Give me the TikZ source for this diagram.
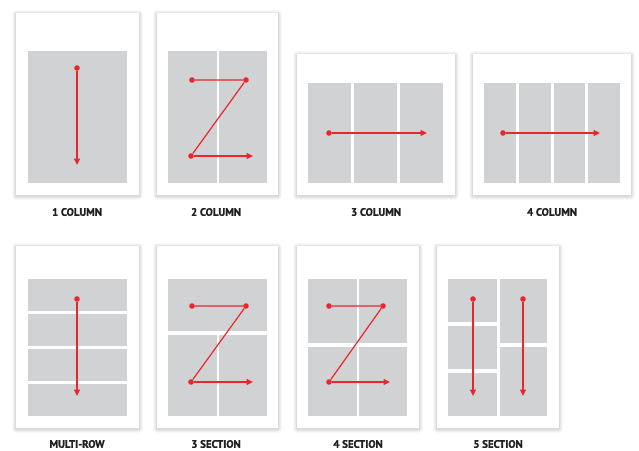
\documentclass[tikz,border=0pt]{standalone}
\usepackage{fontspec}
\setmainfont{PT Sans}
\newfontfamily\labfont{PT Sans}[BoldFeatures={FakeBold=1.2}]
\usetikzlibrary{arrows.meta}
\definecolor{panel}{HTML}{D1D2D4}
\definecolor{flow}{HTML}{E8262B}
\definecolor{ink}{HTML}{231F20}
\newcommand\mycard[4]{%
 \foreach \e/\o in {4/0.025,3/0.03,2/0.04,1/0.05}{\fill[black,opacity=\o,rounded corners=\e pt] (#1-\e,#2-\e+1) rectangle (#3+\e,#4+\e+1);}
 \fill[white] (#1,#2) rectangle (#3,#4);}
\newcommand\pan[4]{\fill[panel] (#1,#2) rectangle (#3,#4);}
\tikzset{
 dot/.style={circle,fill=flow,inner sep=0pt,minimum size=5.6pt},
 zline/.style={draw=flow,line width=1.2pt},
 flowline/.style={draw=flow,line width=1.2pt,-{Triangle[width=6pt,length=6.5pt]}},
 lab/.style={font=\labfont\bfseries\fontsize{10.8}{12}\selectfont,text=ink,inner sep=0pt}
}
\begin{document}
\begin{tikzpicture}[x=1pt,y=-1pt]
\useasboundingbox (0,0) rectangle (639,450);
\fill[white] (0,0) rectangle (639,450);
% 1 column
\mycard{16}{13}{139}{195}
\pan{28}{51}{127}{183}
\node[dot] (a1) at (77,68) {};
\coordinate (a2) at (77,165);
\draw[flowline] (a1) -- (a2);
\node[lab] (l1) at (77,212) {1 COLUMN};
% 2 column
\mycard{157}{13}{278}{195}
\pan{168}{51}{216.5}{183}
\pan{219}{51}{267}{183}
\node[dot] (b1) at (192,80) {};
\node[dot] (b2) at (246,80) {};
\node[dot] (b3) at (191,156) {};
\coordinate (b4) at (253,156);
\draw[zline] (b1) -- (b2) -- (b3);
\draw[flowline] (b3) -- (b4);
\node[lab] (l2) at (216,212) {2 COLUMN};
% 3 column
\mycard{297}{54}{455}{195}
\pan{308}{83}{351}{183}
\pan{354}{83}{397}{183}
\pan{400}{83}{443}{183}
\node[dot] (c1) at (329,133) {};
\coordinate (c2) at (427,133);
\draw[flowline] (c1) -- (c2);
\node[lab] (l3) at (376,212) {3 COLUMN};
% 4 column
\mycard{473}{54}{631}{195}
\pan{484}{83}{516}{183}
\pan{519}{83}{551}{183}
\pan{554}{83}{585}{183}
\pan{588}{83}{620}{183}
\node[dot] (d1) at (503,133) {};
\coordinate (d2) at (600,133);
\draw[flowline] (d1) -- (d2);
\node[lab] (l4) at (552,212) {4 COLUMN};
% multi-row
\mycard{16}{246}{139}{428}
\pan{28}{279}{127}{311}
\pan{28}{314}{127}{346}
\pan{28}{349}{127}{381}
\pan{28}{384}{127}{416}
\node[dot] (e1) at (77,299) {};
\coordinate (e2) at (77,396);
\draw[flowline] (e1) -- (e2);
\node[lab] (l5) at (77,444) {MULTI-ROW};
% 3 section
\mycard{157}{246}{278}{428}
\pan{168}{279}{267}{331}
\pan{168}{335}{216.5}{416}
\pan{219}{335}{267}{416}
\node[dot] (f1) at (192,306) {};
\node[dot] (f2) at (246,306) {};
\node[dot] (f3) at (191,382) {};
\coordinate (f4) at (253,382);
\draw[zline] (f1) -- (f2) -- (f3);
\draw[flowline] (f3) -- (f4);
\node[lab] (l6) at (216,444) {3 SECTION};
% 4 section
\mycard{297}{246}{419}{428}
\pan{308}{279}{357}{343}
\pan{359}{279}{407}{343}
\pan{308}{347}{357}{416}
\pan{359}{347}{407}{416}
\node[dot] (g1) at (329,306) {};
\node[dot] (g2) at (383,306) {};
\node[dot] (g3) at (329,382) {};
\coordinate (g4) at (390,382);
\draw[zline] (g1) -- (g2) -- (g3);
\draw[flowline] (g3) -- (g4);
\node[lab] (l7) at (358,444) {4 SECTION};
% 5 section
\mycard{437}{246}{559}{428}
\pan{448}{279}{497}{322}
\pan{448}{326}{497}{369}
\pan{448}{373}{497}{416}
\pan{500}{279}{547}{343}
\pan{500}{347}{547}{416}
\node[dot] (h1) at (473,299) {};
\coordinate (h2) at (473,396);
\node[dot] (h3) at (523,299) {};
\coordinate (h4) at (523,396);
\draw[flowline] (h1) -- (h2);
\draw[flowline] (h3) -- (h4);
\node[lab] (l8) at (498,444) {5 SECTION};
\end{tikzpicture}
\end{document}
